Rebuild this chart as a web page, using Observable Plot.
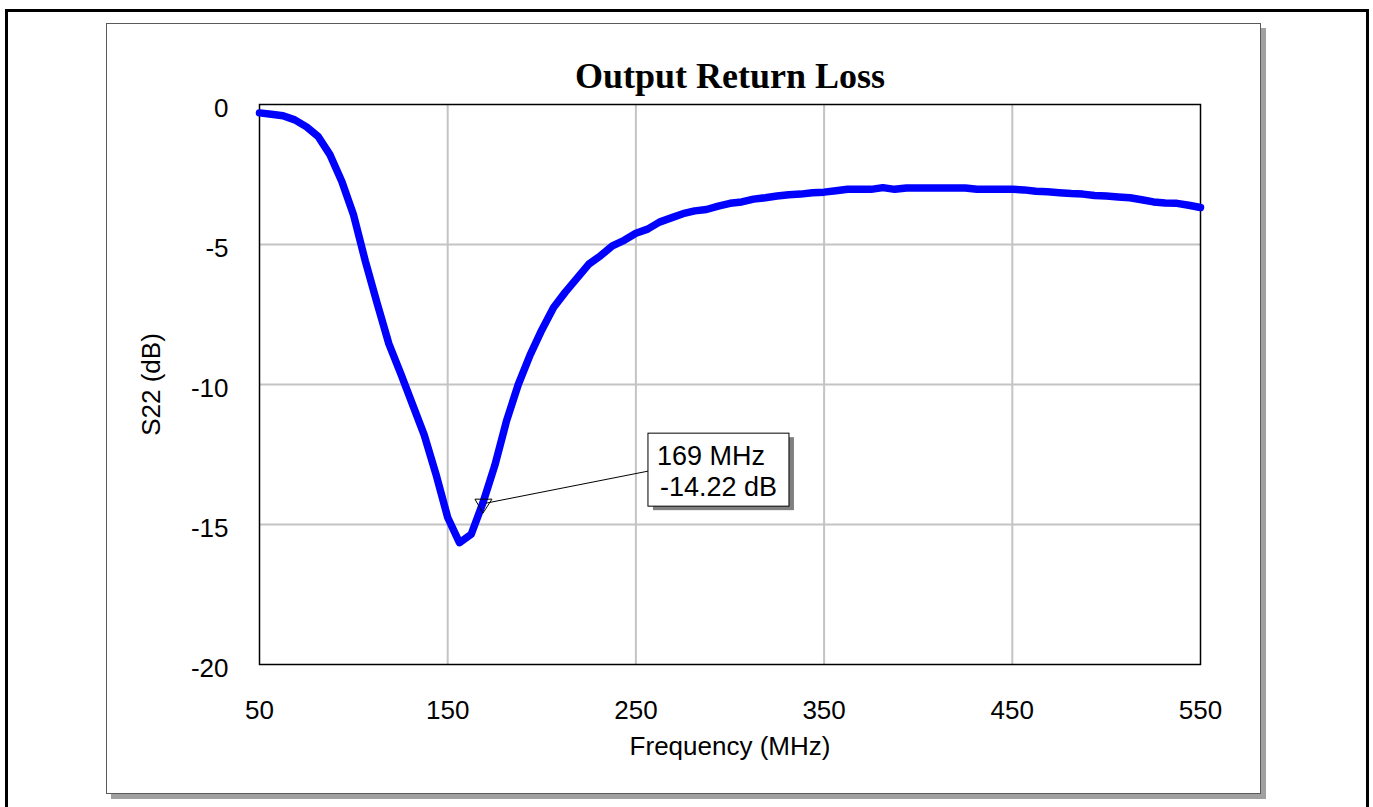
<!DOCTYPE html>
<html>
<head>
<meta charset="utf-8">
<script src="https://cdn.jsdelivr.net/npm/d3@7"></script>
<script src="https://cdn.jsdelivr.net/npm/@observablehq/plot@0.6"></script>
<style>
  html, body { margin: 0; padding: 0; background: #fff; overflow: hidden; }
  #stage { position: relative; width: 1373px; height: 807px; overflow: hidden; }
  #outer { position: absolute; left: 5px; top: 9px; width: 1358px; height: 830px; border: 3px solid #000; }
  #panel { position: absolute; left: 106px; top: 23px; width: 1153px; height: 769px;
           border: 1px solid #5a5a5a; background: #fff; box-shadow: 5px 5px 0 #a0a0a0; }
  #stage svg { position: absolute; left: 0; top: 0; }
</style>
</head>
<body>
<div id="stage">
  <div id="outer"></div>
  <div id="panel"></div>
</div>
<script>
// S22 sweep, 50–550 MHz in 6.25 MHz steps
const freqMHz = [
  50, 56.25, 62.5, 68.75, 75, 81.25, 87.5, 93.75, 100, 106.25,
  112.5, 118.75, 125, 131.25, 137.5, 143.75, 150, 156.25, 162.5, 168.75,
  175, 181.25, 187.5, 193.75, 200, 206.25, 212.5, 218.75, 225, 231.25,
  237.5, 243.75, 250, 256.25, 262.5, 268.75, 275, 281.25, 287.5, 293.75,
  300, 306.25, 312.5, 318.75, 325, 331.25, 337.5, 343.75, 350, 356.25,
  362.5, 368.75, 375, 381.25, 387.5, 393.75, 400, 406.25, 412.5, 418.75,
  425, 431.25, 437.5, 443.75, 450, 456.25, 462.5, 468.75, 475, 481.25,
  487.5, 493.75, 500, 506.25, 512.5, 518.75, 525, 531.25, 537.5, 543.75, 550
];
const s22dB = [
  -0.30, -0.35, -0.40, -0.55, -0.80, -1.15, -1.80, -2.75, -3.95, -5.60,
  -7.10, -8.55, -9.60, -10.70, -11.80, -13.20, -14.75, -15.65, -15.35, -14.22,
  -12.90, -11.30, -10.00, -8.95, -8.05, -7.25, -6.70, -6.20, -5.70, -5.40,
  -5.05, -4.85, -4.60, -4.45, -4.20, -4.05, -3.90, -3.80, -3.75, -3.63,
  -3.53, -3.48, -3.38, -3.33, -3.27, -3.22, -3.20, -3.15, -3.13, -3.08,
  -3.03, -3.03, -3.03, -2.97, -3.03, -2.98, -2.98, -2.98, -2.98, -2.98,
  -2.98, -3.03, -3.03, -3.03, -3.03, -3.05, -3.10, -3.12, -3.15, -3.18,
  -3.20, -3.25, -3.27, -3.30, -3.33, -3.40, -3.48, -3.52, -3.53, -3.60, -3.68
];

const xTicks = [50, 150, 250, 350, 450, 550];
const yTicks = [0, -5, -10, -15, -20];
const xGrid = [150, 250, 350, 450];
const yGrid = [-5, -10, -15];

const titleText = "Output Return Loss";
const xLabel = "Frequency (MHz)";
const yLabel = "S22 (dB)";

// marker readout
const markerFreq = 169;
const markerDb = -14.22;
const markerLines = [`${markerFreq} MHz`, `${markerDb.toFixed(2)} dB`];

const sweep = freqMHz.map((f, i) => ({f, v: s22dB[i]}));

const sans = "'Liberation Sans', Arial, Helvetica, sans-serif";
const serif = "'Liberation Serif', 'Times New Roman', Times, serif";

const axes = Plot.axisX
  ? [
      Plot.axisX(xTicks, {tickSize: 0, tickPadding: 36, label: null, tickFormat: d => String(d), fontSize: 26}),
      Plot.axisY(yTicks, {tickSize: 0, tickPadding: 31, label: null, tickFormat: d => String(d), fontSize: 26, dy: 4})
    ]
  : [];

const chart = Plot.plot({
  width: 1373,
  height: 807,
  marginLeft: 259,
  marginRight: 173,
  marginTop: 104,
  marginBottom: 143,
  style: {background: "transparent", fontFamily: sans, fontSize: "26px", color: "#000", overflow: "visible"},
  x: {domain: [50, 550], ticks: xTicks, tickSize: 0, tickPadding: 36, label: null, tickFormat: d => String(d)},
  y: {domain: [-20, 0], ticks: yTicks, tickSize: 0, tickPadding: 31, label: null, tickFormat: d => String(d)},
  marks: [
    ...axes,
    Plot.gridX(xGrid, {stroke: "#c4c4c4", strokeOpacity: 1, strokeWidth: 2}),
    Plot.gridY(yGrid, {stroke: "#c4c4c4", strokeOpacity: 1, strokeWidth: 2}),
    Plot.frame({stroke: "#000", strokeWidth: 1.5}),
    Plot.line(sweep, {x: "f", y: "v", stroke: "#0000ff", strokeWidth: 7.5, strokeLinejoin: "round"}),
    Plot.text([titleText], {text: d => d, frameAnchor: "top", dy: -17, lineAnchor: "bottom",
      fontFamily: serif, fontWeight: "bold", fontSize: 36}),
    Plot.text([xLabel], {text: d => d, frameAnchor: "bottom", dy: 90, lineAnchor: "bottom", fontSize: 26}),
    Plot.text([yLabel], {text: d => d, frameAnchor: "left", dx: -108, rotate: -90, lineAnchor: "middle", textAnchor: "middle", fontSize: 26})
  ]
});

document.getElementById("stage").appendChild(chart);

// marker triangle and readout box, positioned from the chart's scales
const sx = chart.scale("x"), sy = chart.scale("y");
const px = sx.apply(markerFreq), py = sy.apply(markerDb);
const svg = d3.select(chart);
const g = svg.append("g")
  .attr("font-family", sans)
  .attr("font-size", 27)
  .attr("text-anchor", "start");

const boxX = px + 165, boxY = py - 69, boxW = 141, boxH = 73;

g.append("line")
  .attr("x1", px + 3).attr("y1", py + 1)
  .attr("x2", boxX).attr("y2", boxY + 38)
  .attr("stroke", "#000").attr("stroke-width", 1);

g.append("path")
  .attr("d", `M${px - 8},${py - 3} L${px + 9},${py - 3} L${px},${py + 11} Z`)
  .attr("fill", "none").attr("stroke", "#000").attr("stroke-width", 1);

g.append("rect")
  .attr("x", boxX + 5).attr("y", boxY + 4).attr("width", boxW).attr("height", boxH)
  .attr("fill", "#808080");
g.append("rect")
  .attr("x", boxX).attr("y", boxY).attr("width", boxW).attr("height", boxH)
  .attr("fill", "#fff").attr("stroke", "#000").attr("stroke-width", 1);

g.selectAll("text.readout").data(markerLines).join("text")
  .attr("class", "readout")
  .attr("x", (d, i) => boxX + 9 + i * 3)
  .attr("y", (d, i) => boxY + 32 + i * 31)
  .attr("text-anchor", "start")
  .text(d => d);
</script>
</body>
</html>
